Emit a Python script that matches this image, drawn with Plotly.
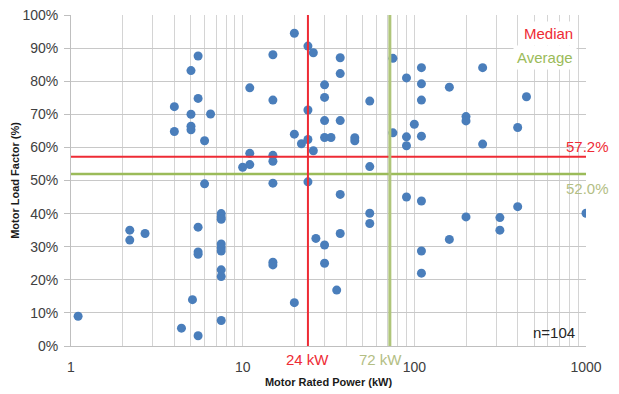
import math
import plotly.graph_objects as go

# Motor rated power (kW) and load factor (%)
rated_power_kw = [1.1, 2.2, 2.2, 2.7, 4.0, 4.0, 4.4, 5.0, 5.0, 5.0,
                  5.0, 5.1, 5.5, 5.5, 5.5, 5.5, 5.5, 5.5, 6.0, 6.0,
                  6.5, 7.5, 7.5, 7.5, 7.5, 7.5, 7.5, 7.5, 7.5, 7.5,
                  10, 11, 11, 11, 15, 15, 15, 15, 15, 15,
                  15, 20, 20, 20, 22, 24, 24, 24, 24, 25.8,
                  25.8, 26.7, 30, 30, 30, 30, 30, 30, 32.7, 35.3,
                  37, 37, 37, 37, 37, 45, 45, 55, 55, 55,
                  55, 75, 75, 90, 90, 90, 90, 100, 110, 110,
                  110, 110, 110, 110, 110, 160, 160, 200, 200, 200,
                  250, 250, 315, 315, 400, 400, 450, 1000]
load_factor_pct = [9.0, 35.0, 32.0, 34.0, 72.3, 64.8, 5.4, 83.2, 70.0, 66.4,
                   65.3, 14.0, 87.6, 74.8, 35.9, 28.4, 27.7, 3.1, 62.0, 49.0,
                   70.1, 40.0, 39.0, 38.3, 30.8, 29.7, 28.7, 23.0, 21.0, 7.7,
                   54.0, 54.8, 58.2, 78.0, 88.0, 74.3, 57.6, 55.8, 49.2, 25.3,
                   24.5, 94.5, 64.0, 13.1, 61.1, 90.6, 71.3, 62.4, 49.6, 88.6,
                   59.0, 32.5, 78.9, 75.1, 68.1, 63.0, 30.5, 25.0, 63.0, 16.9,
                   87.1, 82.3, 68.1, 45.8, 34.0, 62.9, 62.0, 74.0, 54.2, 40.1,
                   37.0, 86.9, 64.4, 81.0, 63.2, 60.5, 45.0, 67.0, 84.1, 79.2,
                   74.3, 63.4, 43.8, 28.7, 22.0, 78.2, 32.2, 69.3, 68.0, 39.0,
                   84.1, 61.0, 38.8, 35.0, 66.0, 42.1, 75.3, 40.1]

median_kw = 24
average_kw = 72
median_lf = 57.2
average_lf = 52.0
n_motors = 104

x_tick_vals = [m * 10 ** e for e in range(3) for m in range(1, 10)] + [1000]
x_tick_text = [str(v) if v in (1, 10, 100, 1000) else "" for v in x_tick_vals]

FONT = "Liberation Sans, Arial, sans-serif"
RED = "#EE2B35"
GREEN = "#9BBB59"
PALE_GREEN = "#B3BE84"

fig = go.Figure()
fig.add_trace(go.Scatter(
    x=rated_power_kw, y=load_factor_pct, mode="markers",
    marker=dict(color="#4A7EBB", size=9, line=dict(width=0)),
    showlegend=False, hoverinfo="x+y"))

fig.add_hline(y=median_lf, line=dict(color=RED, width=2))
fig.add_hline(y=average_lf, line=dict(color=GREEN, width=2.5))
fig.add_vline(x=median_kw, line=dict(color=RED, width=2))
fig.add_vline(x=average_kw, line=dict(color="#AFC57A", width=3))

annos = [
    dict(x=0.9825, xref="paper", y=0.9426, yref="paper", text="Median",
         font=dict(color=RED, size=15), xanchor="right", yanchor="middle",
         showarrow=False, bgcolor="white", borderpad=3),
    dict(x=0.9825, xref="paper", y=0.873, yref="paper", text="Average",
         font=dict(color=GREEN, size=15), xanchor="right", yanchor="middle",
         showarrow=False, bgcolor="white", borderpad=3),
    dict(x=1.0485, xref="paper", y=median_lf, yref="y", text=f"{median_lf:.1f}%",
         font=dict(color=RED, size=15), xanchor="right", yanchor="bottom",
         yshift=0, showarrow=False),
    dict(x=1.0485, xref="paper", y=average_lf, yref="y", text=f"{average_lf:.1f}%",
         font=dict(color=PALE_GREEN, size=15), xanchor="right", yanchor="top",
         yshift=-4, showarrow=False),
    dict(x=math.log10(median_kw), xref="x", y=0, yref="paper", text=f"{median_kw} kW",
         font=dict(color=RED, size=15), xanchor="center", yanchor="top",
         yshift=-3, showarrow=False),
    dict(x=math.log10(average_kw) - 0.055, xref="x", y=0, yref="paper",
         text=f"{average_kw} kW",
         font=dict(color=PALE_GREEN, size=15), xanchor="center", yanchor="top",
         yshift=-3, showarrow=False),
    dict(x=0.9825, xref="paper", y=0.042, yref="paper", text=f"n={n_motors}",
         font=dict(color="#262626", size=15), xanchor="right", yanchor="middle",
         showarrow=False),
]
for a in annos:
    fig.add_annotation(**a)

fig.update_layout(
    width=619, height=394,
    margin=dict(l=71, r=33, t=15, b=48),
    paper_bgcolor="white", plot_bgcolor="white",
    font=dict(family=FONT, color="#404040"),
    xaxis=dict(type="log", range=[0, 3], tickvals=x_tick_vals, ticktext=x_tick_text,
               automargin=False,
               showgrid=True, gridcolor="#D4D4D4", gridwidth=1,
               showline=True, linecolor="#BFBFBF", zeroline=False,
               tickfont=dict(size=14, color="#404040"), ticks="",
               ticklabelstandoff=8,
               title=dict(text="<b>Motor Rated Power (kW)</b>",
                          font=dict(size=11, color="#1a1a1a"), standoff=4)),
    yaxis=dict(range=[0, 100], dtick=10, ticksuffix="%",
               automargin=False,
               showgrid=True, gridcolor="#C8C8C8", gridwidth=1,
               showline=True, linecolor="#BFBFBF", zeroline=False,
               ticks="outside", ticklen=6, tickcolor="#BFBFBF",
               tickfont=dict(size=14, color="#404040"),
               ticklabelstandoff=3,
               title=dict(text="<b>Motor Load Factor (%)</b>",
                          font=dict(size=11, color="#1a1a1a"), standoff=0)),
)

# remove the default 8px page margin so the figure fills the window exactly
fig.write_html("out.html", config={"displayModeBar": False},
               post_script="document.body.style.margin='0px';")
